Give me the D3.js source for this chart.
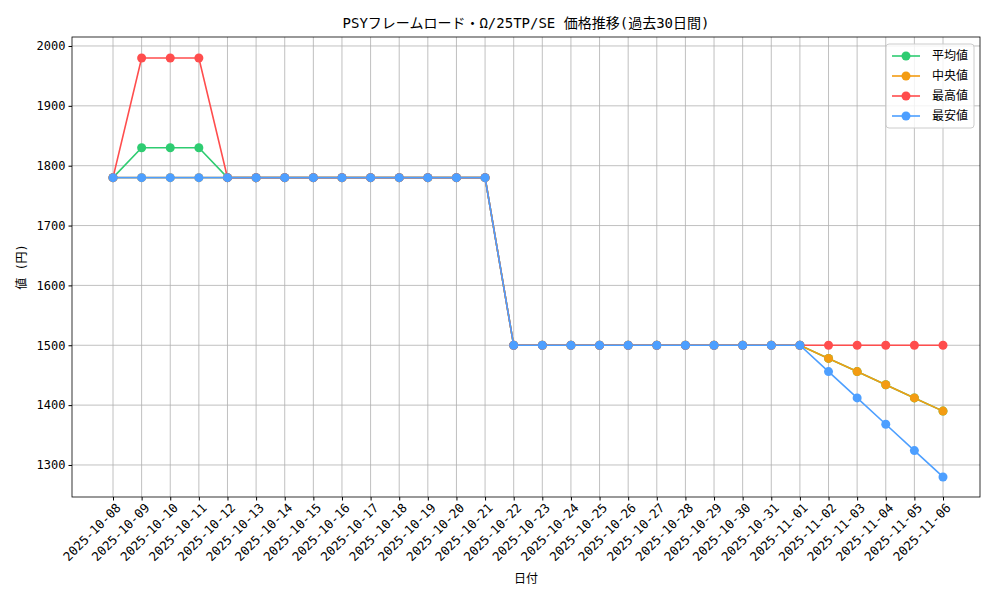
<!DOCTYPE html>
<html><head><meta charset="utf-8">
<script src="https://cdn.jsdelivr.net/npm/d3@7"></script>
<style>body{margin:0;background:#fff}text{font-family:"DejaVu Sans Mono","Noto Sans CJK JP",monospace}</style>
</head><body><svg id="c" width="1000" height="600"></svg>
<script>
const dates=["2025-10-08","2025-10-09","2025-10-10","2025-10-11","2025-10-12","2025-10-13","2025-10-14","2025-10-15","2025-10-16","2025-10-17","2025-10-18","2025-10-19","2025-10-20","2025-10-21","2025-10-22","2025-10-23","2025-10-24","2025-10-25","2025-10-26","2025-10-27","2025-10-28","2025-10-29","2025-10-30","2025-10-31","2025-11-01","2025-11-02","2025-11-03","2025-11-04","2025-11-05","2025-11-06"];
const avgVals=[1780,1830,1830,1830,1780,1780,1780,1780,1780,1780,1780,1780,1780,1780,1500,1500,1500,1500,1500,1500,1500,1500,1500,1500,1500,1478,1456,1434,1412,1390];
const medVals=[1780,1780,1780,1780,1780,1780,1780,1780,1780,1780,1780,1780,1780,1780,1500,1500,1500,1500,1500,1500,1500,1500,1500,1500,1500,1478,1456,1434,1412,1390];
const maxVals=[1780,1980,1980,1980,1780,1780,1780,1780,1780,1780,1780,1780,1780,1780,1500,1500,1500,1500,1500,1500,1500,1500,1500,1500,1500,1500,1500,1500,1500,1500];
const minVals=[1780,1780,1780,1780,1780,1780,1780,1780,1780,1780,1780,1780,1780,1780,1500,1500,1500,1500,1500,1500,1500,1500,1500,1500,1500,1456,1412,1368,1324,1280];
const yTicks=[1300,1400,1500,1600,1700,1800,1900,2000];
const series=[{n:"平均値",v:avgVals,c:"#2ecc71"},{n:"中央値",v:medVals,c:"#f39c12"},{n:"最高値",v:maxVals,c:"#ff4d4d"},{n:"最安値",v:minVals,c:"#4d9fff"}];
const L=72,R=980,T=37,B=497;
const svg=d3.select("#c");
const x=d3.scalePoint().domain(dates).range([113,943]);
const y=d3.scaleLinear().domain([1246.5,2015]).range([B,T]);
const g=svg.append("g");
g.selectAll(".gx").data(dates).join("line").attr("x1",d=>x(d)).attr("x2",d=>x(d)).attr("y1",T).attr("y2",B).attr("stroke","#b0b0b0").attr("stroke-width",0.8);
g.selectAll(".gy").data(yTicks).join("line").attr("x1",L).attr("x2",R).attr("y1",d=>y(d)).attr("y2",d=>y(d)).attr("stroke","#b0b0b0").attr("stroke-width",0.8);
const ax=svg.append("g").attr("transform",`translate(0,${B})`).call(d3.axisBottom(x).tickSize(3.5).tickSizeOuter(0));
ax.select(".domain").remove();
ax.selectAll("text").attr("font-size",12.5).attr("fill","#000").attr("text-anchor","end").attr("transform","rotate(-45)").attr("dx","-0.2em").attr("dy","0.6em");
const ay=svg.append("g").attr("transform",`translate(${L},0)`).call(d3.axisLeft(y).tickValues(yTicks).tickSize(3.5).tickFormat(d3.format("d")));
ay.select(".domain").remove();
ay.selectAll("text").attr("font-size",12).attr("fill","#000");
svg.append("rect").attr("x",L).attr("y",T).attr("width",R-L).attr("height",B-T).attr("fill","none").attr("stroke","#000").attr("stroke-width",0.8);
const line=d3.line().x((d,i)=>x(dates[i])).y(d=>y(d));
series.forEach(s=>{
  svg.append("path").attr("d",line(s.v)).attr("fill","none").attr("stroke",s.c).attr("stroke-width",1.6);
  svg.append("g").selectAll("circle").data(s.v).join("circle").attr("cx",(d,i)=>x(dates[i])).attr("cy",d=>y(d)).attr("r",4.5).attr("fill",s.c);
});
svg.append("text").attr("x",526).attr("y",28).attr("text-anchor","middle").attr("font-size",14).text("PSYフレームロード・Ω/25TP/SE 価格推移(過去30日間)");
svg.append("text").attr("x",526).attr("y",583).attr("text-anchor","middle").attr("font-size",12).text("日付");
svg.append("text").attr("transform","translate(26,267) rotate(-90)").attr("text-anchor","middle").attr("font-size",12).text("値 (円)");
const lg=svg.append("g").attr("transform","translate(886,44)");
lg.append("rect").attr("width",88).attr("height",84).attr("rx",3).attr("fill","#fff").attr("fill-opacity",0.8).attr("stroke","#ccc");
series.forEach((s,i)=>{
  const yy=12+i*20;
  lg.append("line").attr("x1",6).attr("x2",34).attr("y1",yy).attr("y2",yy).attr("stroke",s.c).attr("stroke-width",1.6);
  lg.append("circle").attr("cx",20).attr("cy",yy).attr("r",4.5).attr("fill",s.c);
  lg.append("text").attr("x",46).attr("y",yy+4).attr("font-size",12).text(s.n);
});
</script></body></html>
